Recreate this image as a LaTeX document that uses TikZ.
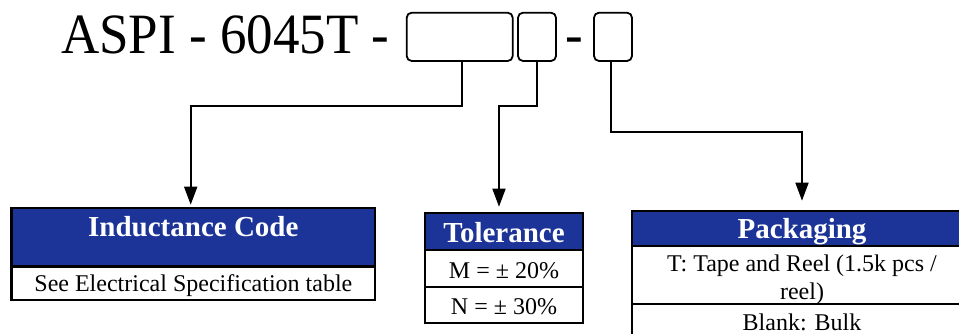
\documentclass[tikz,border=0pt]{standalone}
\usepackage{fontspec}
\setmainfont{Liberation Serif}
\usetikzlibrary{arrows.meta}
\definecolor{hdrblue}{RGB}{28,52,151}
\begin{document}
\begin{tikzpicture}[x=1pt,y=-1pt,
  pbox/.style={draw, line width=1.8pt, rounded corners=5pt, minimum height=48.3pt, inner sep=0pt},
  hcell/.style={draw, line width=2.6pt, fill=hdrblue, inner sep=0pt},
  bcell/.style={draw, line width=2.6pt, fill=white, inner sep=0pt},
  htext/.style={font=\fontsize{29}{32}\selectfont\bfseries, text=white, anchor=base, inner sep=0pt},
  btext/.style={font=\fontsize{24}{28}\selectfont, anchor=base, inner sep=0pt},
  ttext/.style={font=\fontsize{57}{60}\selectfont, inner sep=0pt},
  conn/.style={line width=1.7pt, -{Triangle[width=13pt,length=18pt]}},
]
\useasboundingbox (0,0) rectangle (959,334);
\clip (0,0) rectangle (959,334);

% title and code boxes
\node[ttext, anchor=base west] (title) at (61,53.3) {\scalebox{0.93}[1]{ASPI - 6045T -}};
\node[pbox, minimum width=106pt] (b1) at (459.7,36.85) {};
\node[pbox, minimum width=38pt] (b2) at (537,36.85) {};
\node[ttext, anchor=base] (dash) at (574,53.3) {\scalebox{0.93}[1]{-}};
\node[pbox, minimum width=38pt] (b3) at (613,36.85) {};

% Inductance table
\node[hcell, minimum width=363.3pt, minimum height=58.5pt] (ind) at (193.35,237.25) {};
\node[bcell, minimum width=363.3pt, minimum height=33.5pt] (indb) at (193.35,283.25) {};
\node[htext] (indt) at (193.35,236) {Inductance Code};
\node[btext] (indbt) at (193.35,291.7) {See Electrical Specification table};

% Tolerance table
\node[hcell, minimum width=158pt, minimum height=37pt] (tol) at (504,231.5) {};
\node[bcell, minimum width=158pt, minimum height=37pt] (tolm) at (504,268.5) {};
\node[bcell, minimum width=158pt, minimum height=36pt] (toln) at (504,305) {};
\node[htext] (tolt) at (504,242.4) {Tolerance};
\node[btext] (tolmt) at (504,278) {M = ± 20\%};
\node[btext] (tolnt) at (504,314.8) {N = ± 30\%};

% Packaging table
\node[hcell, minimum width=340pt, minimum height=35pt] (pack) at (802,228.5) {};
\node[bcell, minimum width=340pt, minimum height=58pt] (packt) at (802,275) {};
\node[bcell, minimum width=340pt, minimum height=37pt] (packb) at (802,322.5) {};
\node[htext] (packh) at (802,238.3) {Packaging};
\node[btext] (packt1) at (802,271.7) {T: Tape and Reel (1.5k pcs /};
\node[btext] (packt2) at (802,299) {reel)};
\node[btext] (packbt) at (802,330) {Blank: Bulk};

% connectors
\coordinate (k1) at (462.3,106);
\coordinate (a1) at (190.7,0);
\draw[conn, shorten >=2pt] (b1.south -| k1) -- (k1) -| (a1 |- ind.north);
\coordinate (k2) at (537,106);
\coordinate (a2) at (499,0);
\draw[conn, shorten >=5pt] (b2.south) -- (k2) -| (a2 |- tol.north);
\coordinate (k3) at (611,131.7);
\draw[conn, shorten >=9pt] (b3.south -| k3) -- (k3) -| (pack.north);
\end{tikzpicture}
\end{document}
